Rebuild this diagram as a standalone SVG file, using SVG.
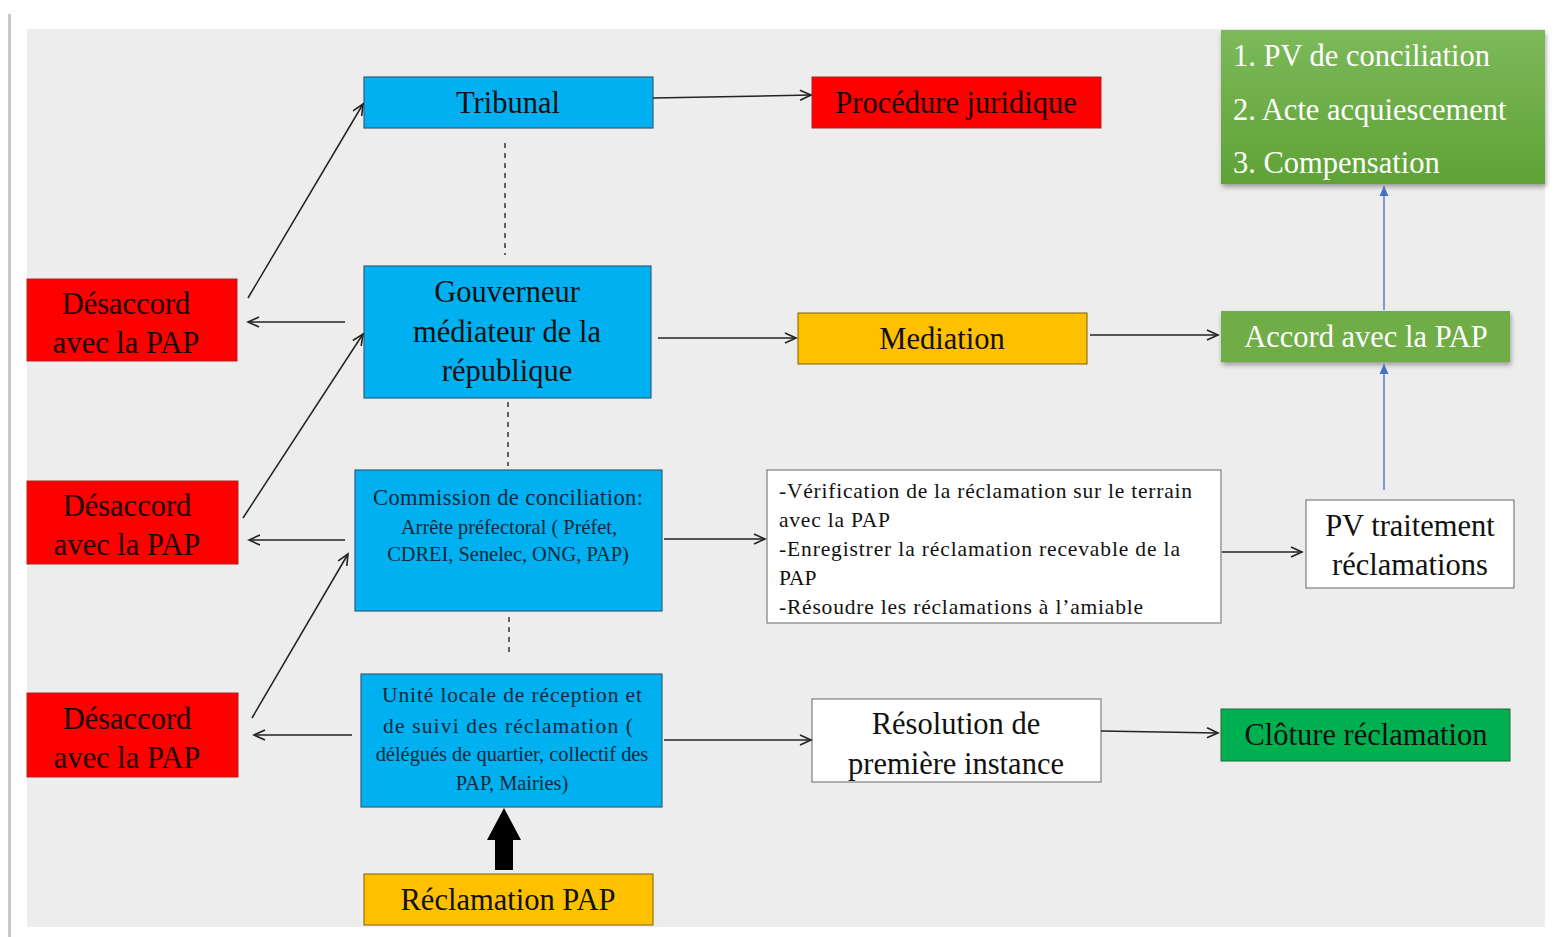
<svg xmlns="http://www.w3.org/2000/svg" width="1554" height="937" viewBox="0 0 1554 937" font-family="'Liberation Serif', 'DejaVu Serif', serif">
<defs>
<marker id="arr" markerWidth="14" markerHeight="12" refX="12" refY="6" orient="auto" markerUnits="userSpaceOnUse">
<path d="M1,1 L12,6 L1,11" fill="none" stroke="#222" stroke-width="1.6"/>
</marker>
<marker id="barr" markerWidth="12" markerHeight="12" refX="10" refY="6" orient="auto" markerUnits="userSpaceOnUse">
<path d="M0,1.5 L10,6 L0,10.5 Z" fill="#4472C4"/>
</marker>
<linearGradient id="gg" x1="0" y1="0" x2="0" y2="1">
<stop offset="0" stop-color="#7DB95A"/>
<stop offset="1" stop-color="#5FA236"/>
</linearGradient>
<filter id="sh" x="-5%" y="-10%" width="115%" height="130%">
<feDropShadow dx="1" dy="3" stdDeviation="2.5" flood-color="#000" flood-opacity="0.35"/>
</filter>
</defs>
<style>
text{font-family:'Liberation Serif','DejaVu Serif',serif;text-anchor:middle}
.b{fill:#00B0F0;stroke:#2F5F7F;stroke-width:1.2}
.r{fill:#FF0000;stroke:#B22222;stroke-width:1}
.y{fill:#FFC000;stroke:#7F6000;stroke-width:1}
.w{fill:#FFFFFF;stroke:#7F7F7F;stroke-width:1.2}
.t{font-size:30.5px;fill:#111}
.tr{font-size:30.5px;fill:#1A0000}
.s{font-size:20.4px;fill:#0A2A3A}
.v{font-size:21.5px;fill:#111;text-anchor:start}
.c{stroke:#222;stroke-width:1.5;fill:none}
.d{stroke:#333;stroke-width:1.5;stroke-dasharray:5,5;fill:none}
</style>
<rect x="0" y="0" width="1554" height="937" fill="#FFFFFF"/>
<rect x="8" y="14" width="3" height="923" fill="#C8C8C8"/>
<rect x="27" y="29" width="1518" height="898" fill="#EDEDED"/>

<g id="tribunal"><rect class="b" x="364" y="77" width="289" height="51"/><text class="t" x="508" y="113">Tribunal</text></g>
<g id="procedure"><rect class="r" x="812" y="77" width="289" height="51"/><text class="tr" x="956" y="113">Procédure juridique</text></g>
<g id="gouverneur"><rect class="b" x="364" y="266" width="287" height="132"/>
<text class="t" x="507" y="302">Gouverneur</text><text class="t" x="507" y="342">médiateur de la</text><text class="t" x="507" y="381">république</text></g>
<g id="mediation"><rect class="y" x="798" y="313" width="289" height="51"/><text class="t" x="942" y="349">Mediation</text></g>
<g id="accord"><rect x="1221" y="311" width="289" height="51" fill="#70AD47" filter="url(#sh)"/><text x="1366" y="347" style="font-size:30.5px;fill:#FFFFFF">Accord avec la PAP</text></g>
<g id="resultats"><rect x="1221" y="30" width="324" height="154" fill="url(#gg)" filter="url(#sh)"/>
<text x="1233" y="66" style="font-size:30.5px;fill:#FFFFFF;text-anchor:start">1. PV de conciliation</text>
<text x="1233" y="120" style="font-size:30.5px;fill:#FFFFFF;text-anchor:start">2. Acte acquiescement</text>
<text x="1233" y="173" style="font-size:30.5px;fill:#FFFFFF;text-anchor:start">3. Compensation</text></g>
<g id="desaccord1"><rect class="r" x="27" y="279" width="210" height="82"/><text class="tr" x="126" y="314">Désaccord</text><text class="tr" x="126" y="353">avec la PAP</text></g>
<g id="desaccord2"><rect class="r" x="27" y="481" width="211" height="83"/><text class="tr" x="127" y="516">Désaccord</text><text class="tr" x="127" y="555">avec la PAP</text></g>
<g id="desaccord3"><rect class="r" x="27" y="693" width="211" height="84"/><text class="tr" x="127" y="729">Désaccord</text><text class="tr" x="127" y="768">avec la PAP</text></g>
<g id="commission"><rect class="b" x="355" y="470" width="307" height="141"/>
<text x="508" y="505" textLength="270" lengthAdjust="spacing" style="font-size:22.5px;fill:#0A2A3A">Commission de conciliation:</text>
<text class="s" x="509" y="534">Arrête préfectoral ( Préfet,</text>
<text class="s" x="508" y="561">CDREI, Senelec, ONG, PAP)</text></g>
<g id="verification"><rect class="w" x="767" y="470" width="454" height="153"/>
<text class="v" x="779" y="498" textLength="413" lengthAdjust="spacing">-Vérification de la réclamation sur le terrain</text>
<text class="v" x="779" y="527" textLength="111" lengthAdjust="spacing">avec la PAP</text>
<text class="v" x="779" y="556" textLength="401" lengthAdjust="spacing">-Enregistrer la réclamation recevable de la</text>
<text class="v" x="779" y="585">PAP</text>
<text class="v" x="779" y="614" textLength="364" lengthAdjust="spacing">-Résoudre les réclamations à l’amiable</text></g>
<g id="pv"><rect class="w" x="1306" y="500" width="208" height="88"/><text class="t" x="1410" y="536">PV traitement</text><text class="t" x="1410" y="575">réclamations</text></g>
<g id="unite"><rect class="b" x="361" y="674" width="301" height="133"/>
<text x="512" y="702" textLength="260" lengthAdjust="spacing" style="font-size:21.5px;fill:#0A2A3A">Unité locale de réception et</text>
<text x="508" y="733" textLength="250" lengthAdjust="spacing" style="font-size:21.5px;fill:#0A2A3A">de suivi des réclamation (</text>
<text class="s" x="512" y="761">délégués de quartier, collectif des</text>
<text class="s" x="512" y="790">PAP, Mairies)</text></g>
<g id="resolution"><rect class="w" x="812" y="699" width="289" height="83"/><text class="t" x="956" y="734">Résolution de</text><text class="t" x="956" y="774">première instance</text></g>
<g id="cloture"><rect x="1221" y="709" width="289" height="52" fill="#00B050" stroke="#1E6B34" stroke-width="1"/><text class="t" x="1366" y="745">Clôture réclamation</text></g>
<g id="reclamation"><rect class="y" x="364" y="874" width="289" height="51"/><text class="t" x="508" y="910">Réclamation PAP</text></g>

<g id="connectors">
<line class="c" x1="653" y1="98" x2="811" y2="95" marker-end="url(#arr)"/>
<line class="c" x1="248" y1="298" x2="363" y2="104" marker-end="url(#arr)"/>
<line class="c" x1="345" y1="322" x2="248" y2="322" marker-end="url(#arr)"/>
<line class="c" x1="243" y1="518" x2="363" y2="334" marker-end="url(#arr)"/>
<line class="c" x1="345" y1="540" x2="249" y2="540" marker-end="url(#arr)"/>
<line class="c" x1="252" y1="718" x2="348" y2="554" marker-end="url(#arr)"/>
<line class="c" x1="352" y1="735" x2="254" y2="735" marker-end="url(#arr)"/>
<line class="c" x1="658" y1="338" x2="796" y2="338" marker-end="url(#arr)"/>
<line class="c" x1="1090" y1="335" x2="1218" y2="335" marker-end="url(#arr)"/>
<line class="c" x1="664" y1="539" x2="765" y2="539" marker-end="url(#arr)"/>
<line class="c" x1="1222" y1="552" x2="1302" y2="552" marker-end="url(#arr)"/>
<line class="c" x1="664" y1="740" x2="811" y2="740" marker-end="url(#arr)"/>
<line class="c" x1="1101" y1="731" x2="1218" y2="733" marker-end="url(#arr)"/>
<line x1="1384" y1="490" x2="1384" y2="364" stroke="#4472C4" stroke-width="1.3" marker-end="url(#barr)"/>
<line x1="1384" y1="310" x2="1384" y2="186" stroke="#4472C4" stroke-width="1.3" marker-end="url(#barr)"/>
<line class="d" x1="505" y1="143" x2="505" y2="255"/>
<line class="d" x1="508" y1="402" x2="508" y2="466"/>
<line class="d" x1="509" y1="617" x2="509" y2="655"/>
<path d="M495,870 L495,840 L487,840 L504,808 L521,840 L513,840 L513,870 Z" fill="#000"/>
</g>
</svg>
